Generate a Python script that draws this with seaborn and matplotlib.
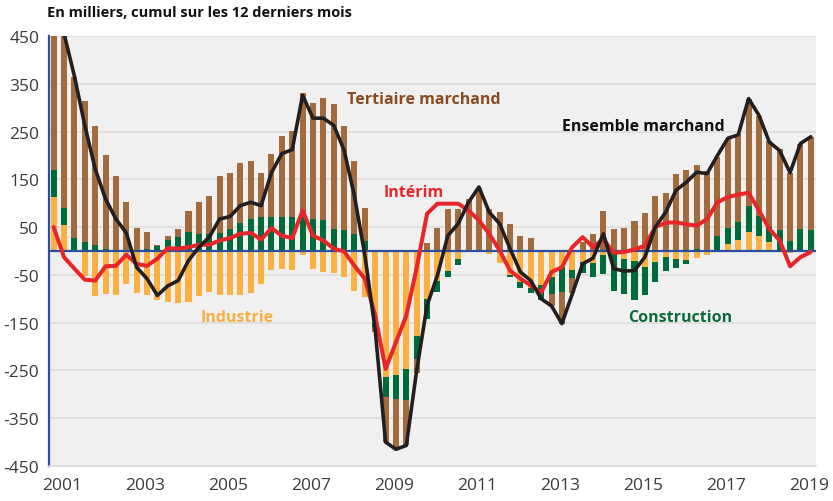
import numpy as np
import matplotlib
matplotlib.use("Agg")
import matplotlib.pyplot as plt
import seaborn as sns

# quarterly values, 2001 Q1 -> 2019 Q2, thousands (12-month cumulated)
industrie = [114, 55, -2, -52, -95, -91, -93, -69, -88, -93,
             -102, -106, -109, -106, -94, -86, -92, -93, -92, -88,
             -70, -39, -37, -40, -8, -37, -44, -47, -55, -83,
             -97, -150, -264, -260, -248, -177, -100, -62, -41, -16,
             0, -3, -6, -25, -50, -65, -77, -71, -55, -34,
             -40, -23, -26, -8, -3, -16, -20, -34, -23, -13,
             -16, -18, -15, -9, 0, 14, 24, 40, 32, 19,
             0, -4, 0, 0]
construction = [55, 35, 27, 19, 13, 4, 0, 0, 0, 4,
                11, 22, 29, 40, 35, 36, 37, 46, 59, 67,
                71, 72, 72, 72, 72, 66, 65, 46, 43, 35,
                21, -10, -42, -50, -63, -49, -42, -24, -14, -13,
                3, 2, 0, 3, -4, -12, -11, -31, -35, -52,
                -17, -23, -28, -41, -80, -73, -82, -58, -42, -28,
                -20, -9, 5, 3, 32, 35, 37, 55, 42, 31,
                43, 21, 47, 45]
tertiaire = [300, 365, 337, 296, 249, 196, 157, 102, 49, 36,
             2, 9, 17, 44, 67, 80, 121, 118, 125, 121,
             93, 132, 169, 180, 259, 244, 256, 261, 219, 153,
             70, -10, -94, -103, -95, -30, 16, 48, 87, 87,
             105, 130, 87, 78, 57, 32, 28, 3, -25, -66,
             -30, 19, 36, 83, 47, 48, 62, 80, 116, 122,
             162, 169, 174, 164, 165, 185, 184, 223, 209, 180,
             170, 142, 177, 194]
ensemble = [470, 455, 366, 263, 172, 109, 67, 38, -34, -58,
            -93, -73, -62, -20, 8, 29, 67, 72, 95, 102,
            95, 164, 204, 212, 326, 278, 278, 263, 211, 115,
            -8, -165, -400, -415, -407, -250, -114, -51, 32, 57,
            102, 134, 81, 57, 5, -44, -62, -100, -115, -152,
            -90, -27, -15, 36, -37, -42, -41, -13, 50, 81,
            127, 144, 165, 162, 200, 236, 243, 319, 284, 228,
            210, 164, 225, 239]
interim = [50, -13, -37, -60, -62, -32, -31, -8, -27, -31,
           -16, 6, 5, 8, 13, 13, 22, 27, 36, 38,
           24, 48, 32, 27, 85, 32, 22, 5, -1, -31,
           -58, -135, -247, -191, -135, -35, 78, 99, 99, 99,
           85, 64, 36, 1, -41, -58, -72, -87, -44, -34,
           8, 29, 8, 25, -4, -2, 3, 11, 50, 59,
           60, 56, 53, 67, 102, 113, 118, 122, 85, 46,
           22, -32, -13, -2]
year_labels = ["2001", "2003", "2005", "2007", "2009", "2011", "2013",
               "2015", "2017", "2019"]
y_ticks = [450, 350, 250, 150, 50, -50, -150, -250, -350, -450]

sns.set_style("white")
plt.rcParams['font.family'] = ['Open Sans', 'DejaVu Sans']

c_ind = "#fbb040"
c_con = "#006b3a"
c_ter = "#a26b3e"

fig = plt.figure(figsize=(8.33, 5.02), dpi=100)
ax = fig.add_axes([49 / 833, 1 - 467 / 502, (816 - 49) / 833, (467 - 37) / 502])
ax.set_facecolor("#f0f0f0")

x = np.arange(len(industrie))
pos = np.zeros(len(x))
neg = np.zeros(len(x))
for vals, col in [(industrie, c_ind), (construction, c_con), (tertiaire, c_ter)]:
    v = np.array(vals, dtype=float)
    bottom = np.where(v >= 0, pos, neg)
    ax.bar(x, v, bottom=bottom, width=0.58, color=col, linewidth=0, zorder=2)
    pos = pos + np.where(v >= 0, v, 0)
    neg = neg + np.where(v < 0, v, 0)

ax.axhline(0, color="#2a4fa0", lw=1.6, zorder=3)

sns.lineplot(x=x, y=interim, ax=ax, color="#e8262a", linewidth=2.9, zorder=4)
sns.lineplot(x=x, y=ensemble, ax=ax, color="#231f20", linewidth=2.6, zorder=5)

ax.set_xlim(-0.45, 73.5)
ax.set_ylim(-450, 450)
ax.set_yticks(y_ticks)
ax.set_yticklabels([str(t) for t in y_ticks], fontsize=12.5, color="#3a3a3a")
ax.yaxis.grid(True, color="#dcdcdc", lw=1.2, zorder=0)
ax.tick_params(axis="y", length=0, pad=7)

ax.set_xticks([4 * k - 0.45 for k in range(1, 19)])
ax.set_xticklabels([])
ax.set_xticks([8 * k + 0.8 for k in range(len(year_labels))], minor=True)
ax.set_xticklabels(year_labels, minor=True, fontsize=12.5, color="#3a3a3a")
ax.tick_params(axis="x", which="major", length=4, color="#8a8a8a", width=1)
ax.tick_params(axis="x", which="minor", length=0, pad=8)

for s in ["top", "right"]:
    ax.spines[s].set_visible(False)
ax.spines["left"].set_color("#2a4fa0")
ax.spines["left"].set_linewidth(1.6)
ax.spines["bottom"].set_color("#d8d8d8")
ax.spines["bottom"].set_linewidth(1.2)

fig.text(47 / 833, 1 - 13 / 502, "En milliers, cumul sur les 12 derniers mois",
         fontsize=10.5, fontweight="bold", color="#111111", va="center", ha="left")

ax.text(28.3, 319, "Tertiaire marchand", color="#8a4a22", fontsize=11.5,
        fontweight="bold", ha="left", va="center", zorder=6)
ax.text(49.0, 261, "Ensemble marchand", color="#111111", fontsize=11.5,
        fontweight="bold", ha="left", va="center", zorder=6)
ax.text(31.8, 124, "Intérim", color="#e8262a", fontsize=11.5,
        fontweight="bold", ha="left", va="center", zorder=6)
ax.text(14.2, -138, "Industrie", color="#f9ae40", fontsize=11.5,
        fontweight="bold", ha="left", va="center", zorder=6)
ax.text(55.4, -138, "Construction", color="#0b6b3a", fontsize=11.5,
        fontweight="bold", ha="left", va="center", zorder=6)

fig.savefig("out.png", dpi=100)
